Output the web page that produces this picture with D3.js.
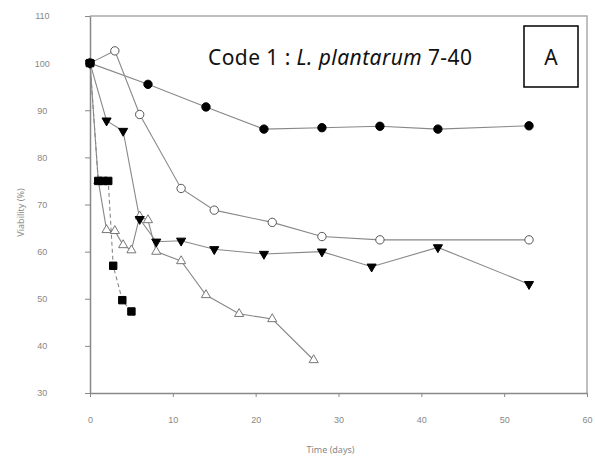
<!DOCTYPE html>
<html lang="en">
<head>
    <meta charset="UTF-8">
    <title>Viability - Code 1</title>
    <script src="https://d3js.org/d3.v7.min.js"></script>
    <style>
        body { margin: 0; background: #fff; font-family: "Noto Sans", Arial, sans-serif; }
        .tick-label { font-size: 9px; fill: #888; }
        .axis-title { font-size: 9px; fill: #888; }
    </style>
</head>
<body>
    <svg width="595" height="460"></svg>
    <script>
        // Ticks
        const xTicks = [0, 10, 20, 30, 40, 50, 60];
        const yTicks = [30, 40, 50, 60, 70, 80, 90, 100, 110];

        // Filled circles
        const circleDays = [0, 7, 14, 21, 28, 35, 42, 53];
        const circleVals = [100, 95.5, 90.7, 86, 86.3, 86.6, 86, 86.7];

        // Open circles
        const openCircleDays = [0, 3, 6, 11, 15, 22, 28, 35, 53];
        const openCircleVals = [100, 102.6, 89.1, 73.4, 68.8, 66.2, 63.2, 62.5, 62.5];

        // Filled triangles (down)
        const triDownDays = [0, 2, 4, 6, 8, 11, 15, 21, 28, 34, 42, 53];
        const triDownVals = [100, 87.8, 85.6, 66.9, 62.1, 62.3, 60.5, 59.5, 60, 56.8, 60.9, 53.1];

        // Open triangles (up)
        const triUpDays = [0, 1, 2, 3, 4, 5, 6, 7, 8, 11, 14, 18, 22, 27];
        const triUpVals = [100, 75, 64.6, 64.4, 61.4, 60.3, 67.5, 66.7, 60, 58, 50.8, 46.8, 45.7, 37];

        // Filled squares (dashed line)
        const squareDays = [0, 1, 1.6, 2.2, 2.8, 3.9, 5];
        const squareVals = [100, 75, 75, 75, 57, 49.7, 47.3];

        const svg = d3.select("svg");
        const plotLeft = 90, plotRight = 587, plotTop = 16, plotBottom = 393;

        const x = d3.scaleLinear().domain([0, 60]).range([plotLeft, plotRight]);
        const y = d3.scaleLinear().domain([30, 110]).range([plotBottom, plotTop]);

        // frame (top and right)
        svg.append("path")
            .attr("d", `M${x(0)},${y(110)}H${x(60)}V${y(30)}`)
            .attr("fill", "none")
            .attr("stroke", "#aaa")
            .attr("stroke-width", 1.5);

        // axes
        const xAxis = svg.append("g")
            .attr("transform", `translate(0,${y(30)})`)
            .call(d3.axisBottom(x).tickValues(xTicks).tickSize(4).tickPadding(20).tickSizeOuter(0));
        const yAxis = svg.append("g")
            .attr("transform", `translate(${x(0)},0)`)
            .call(d3.axisLeft(y).tickValues(yTicks).tickSize(5).tickPadding(40).tickSizeOuter(0));

        [xAxis, yAxis].forEach(a => {
            a.select(".domain").attr("stroke", "#888").attr("stroke-width", 1.5);
            a.selectAll(".tick line").attr("stroke", "#888");
            a.selectAll(".tick text").attr("class", "tick-label").attr("font-family", null).attr("font-size", null);
        });
        yAxis.selectAll(".tick text").attr("text-anchor", "middle").attr("dx", "-0.3em");

        // axis titles
        svg.append("text")
            .attr("class", "axis-title")
            .attr("transform", `translate(24,${(y(30) + y(110)) / 2 + 8}) rotate(-90)`)
            .attr("text-anchor", "middle")
            .text("Viability (%)");
        svg.append("text")
            .attr("class", "axis-title")
            .attr("x", (x(0) + x(60)) / 2 - 8)
            .attr("y", 453)
            .attr("text-anchor", "middle")
            .text("Time (days)");

        const series = [
            { days: triUpDays, vals: triUpVals, symbol: d3.symbolTriangle, rot: 0, fill: "#fff", stroke: "#777", size: 36, dash: null },
            { days: openCircleDays, vals: openCircleVals, symbol: d3.symbolCircle, rot: 0, fill: "#fff", stroke: "#555", size: 55, dash: null },
            { days: triDownDays, vals: triDownVals, symbol: d3.symbolTriangle, rot: 180, fill: "#000", stroke: "#000", size: 36, dash: null },
            { days: circleDays, vals: circleVals, symbol: d3.symbolCircle, rot: 0, fill: "#000", stroke: "#000", size: 55, dash: null },
            { days: squareDays, vals: squareVals, symbol: d3.symbolSquare, rot: 0, fill: "#000", stroke: "#000", size: 55, dash: "4,3" }
        ];

        const line = d3.line().x(d => x(d[0])).y(d => y(d[1]));

        series.forEach(s => {
            const pts = s.days.map((d, i) => [d, s.vals[i]]);
            svg.append("path")
                .datum(pts)
                .attr("d", line)
                .attr("fill", "none")
                .attr("stroke", "#888")
                .attr("stroke-width", 1.1)
                .attr("stroke-dasharray", s.dash);
        });

        series.forEach(s => {
            const pts = s.days.map((d, i) => [d, s.vals[i]]);
            svg.append("g").selectAll("path")
                .data(pts)
                .join("path")
                .attr("d", d3.symbol().type(s.symbol).size(s.size))
                .attr("transform", d => `translate(${x(d[0])},${y(d[1])}) rotate(${s.rot})`)
                .attr("fill", s.fill)
                .attr("stroke", s.stroke)
                .attr("stroke-width", 1);
        });

        // caption
        const cap = svg.append("text")
            .attr("x", 208)
            .attr("y", 65)
            .attr("font-size", 21)
            .attr("textLength", 264)
            .attr("lengthAdjust", "spacing")
            .attr("fill", "#111");
        cap.append("tspan").text("Code 1 : ");
        cap.append("tspan").attr("font-style", "italic").text("L. plantarum");
        cap.append("tspan").text(" 7-40");

        // panel label box
        svg.append("rect")
            .attr("x", 524).attr("y", 26)
            .attr("width", 54).attr("height", 61)
            .attr("fill", "#fff")
            .attr("stroke", "#000")
            .attr("stroke-width", 1.5);
        svg.append("text")
            .attr("x", 551).attr("y", 65)
            .attr("text-anchor", "middle")
            .attr("font-size", 21)
            .attr("fill", "#111")
            .text("A");
    </script>
</body>
</html>
